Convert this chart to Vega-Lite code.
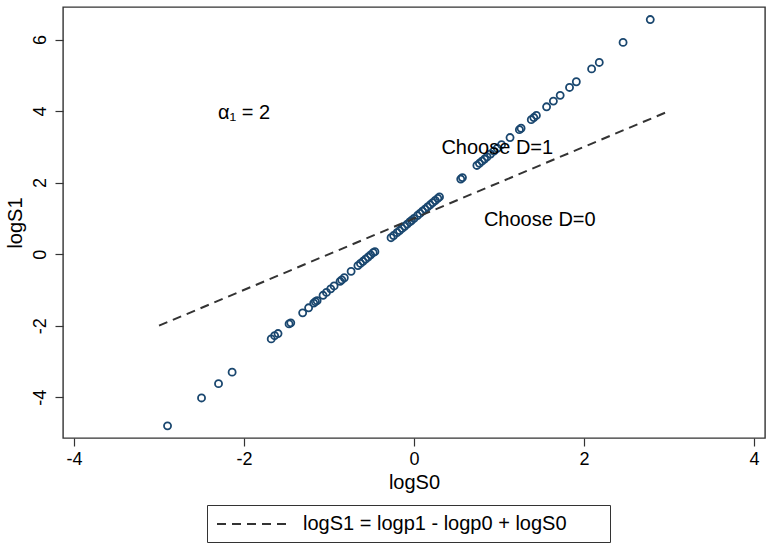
{
  "$schema": "https://vega.github.io/schema/vega-lite/v6.json",
  "width": 702,
  "height": 431,
  "autosize": {"type": "none"},
  "padding": {"left": 63, "top": 7, "right": 4, "bottom": 112},
  "background": "white",
  "config": {
    "view": {"stroke": "#333333", "strokeWidth": 1.4},
    "font": "Liberation Sans",
    "axis": {
      "grid": false,
      "domain": false,
      "tickColor": "#333333",
      "tickSize": 8,
      "tickWidth": 1.2,
      "labelFont": "Liberation Sans",
      "labelColor": "#000000",
      "labelFontSize": 18,
      "titleFont": "Liberation Sans",
      "titleColor": "#000000",
      "titleFontSize": 20,
      "titleFontWeight": "normal"
    }
  },
  "layer": [
    {
      "data": {
        "values": [
          {"logS0": -2.90, "logS1": -4.80},
          {"logS0": -2.50, "logS1": -4.02},
          {"logS0": -2.30, "logS1": -3.62},
          {"logS0": -2.14, "logS1": -3.30},
          {"logS0": -1.68, "logS1": -2.37},
          {"logS0": -1.64, "logS1": -2.28},
          {"logS0": -1.60, "logS1": -2.22},
          {"logS0": -1.47, "logS1": -1.95},
          {"logS0": -1.45, "logS1": -1.92},
          {"logS0": -1.31, "logS1": -1.64},
          {"logS0": -1.24, "logS1": -1.50},
          {"logS0": -1.18, "logS1": -1.37},
          {"logS0": -1.16, "logS1": -1.33},
          {"logS0": -1.14, "logS1": -1.30},
          {"logS0": -1.07, "logS1": -1.15},
          {"logS0": -1.03, "logS1": -1.07},
          {"logS0": -0.98, "logS1": -0.97},
          {"logS0": -0.94, "logS1": -0.89},
          {"logS0": -0.87, "logS1": -0.76},
          {"logS0": -0.85, "logS1": -0.72},
          {"logS0": -0.82, "logS1": -0.66},
          {"logS0": -0.74, "logS1": -0.48},
          {"logS0": -0.66, "logS1": -0.32},
          {"logS0": -0.63, "logS1": -0.26},
          {"logS0": -0.60, "logS1": -0.20},
          {"logS0": -0.57, "logS1": -0.14},
          {"logS0": -0.54, "logS1": -0.08},
          {"logS0": -0.51, "logS1": -0.02},
          {"logS0": -0.48, "logS1": 0.04},
          {"logS0": -0.46, "logS1": 0.07},
          {"logS0": -0.27, "logS1": 0.46},
          {"logS0": -0.24, "logS1": 0.52},
          {"logS0": -0.20, "logS1": 0.60},
          {"logS0": -0.17, "logS1": 0.66},
          {"logS0": -0.14, "logS1": 0.72},
          {"logS0": -0.11, "logS1": 0.78},
          {"logS0": -0.08, "logS1": 0.84},
          {"logS0": -0.05, "logS1": 0.90},
          {"logS0": -0.03, "logS1": 0.94},
          {"logS0": 0.00, "logS1": 1.00},
          {"logS0": 0.04, "logS1": 1.08},
          {"logS0": 0.07, "logS1": 1.14},
          {"logS0": 0.10, "logS1": 1.20},
          {"logS0": 0.13, "logS1": 1.26},
          {"logS0": 0.16, "logS1": 1.32},
          {"logS0": 0.19, "logS1": 1.38},
          {"logS0": 0.22, "logS1": 1.44},
          {"logS0": 0.25, "logS1": 1.50},
          {"logS0": 0.28, "logS1": 1.56},
          {"logS0": 0.30, "logS1": 1.60},
          {"logS0": 0.55, "logS1": 2.10},
          {"logS0": 0.57, "logS1": 2.14},
          {"logS0": 0.74, "logS1": 2.48},
          {"logS0": 0.77, "logS1": 2.54},
          {"logS0": 0.80, "logS1": 2.60},
          {"logS0": 0.83, "logS1": 2.66},
          {"logS0": 0.86, "logS1": 2.72},
          {"logS0": 0.90, "logS1": 2.80},
          {"logS0": 0.94, "logS1": 2.88},
          {"logS0": 0.98, "logS1": 2.96},
          {"logS0": 1.03, "logS1": 3.06},
          {"logS0": 1.13, "logS1": 3.26},
          {"logS0": 1.24, "logS1": 3.48},
          {"logS0": 1.26, "logS1": 3.52},
          {"logS0": 1.38, "logS1": 3.76},
          {"logS0": 1.41, "logS1": 3.82},
          {"logS0": 1.44, "logS1": 3.88},
          {"logS0": 1.56, "logS1": 4.12},
          {"logS0": 1.64, "logS1": 4.28},
          {"logS0": 1.72, "logS1": 4.44},
          {"logS0": 1.83, "logS1": 4.66},
          {"logS0": 1.91, "logS1": 4.82},
          {"logS0": 2.09, "logS1": 5.18},
          {"logS0": 2.18, "logS1": 5.36},
          {"logS0": 2.46, "logS1": 5.92},
          {"logS0": 2.78, "logS1": 6.56}
        ]
      },
      "mark": {"type": "point", "shape": "circle", "filled": false, "color": "#1a476f", "size": 50, "strokeWidth": 1.8, "opacity": 1},
      "encoding": {
        "x": {"field": "logS0", "type": "quantitative", "title": "logS0",
              "scale": {"domain": [-4.13, 4.13], "nice": false, "zero": false},
              "axis": {"values": [-4, -2, 0, 2, 4], "labelExpr": "datum.value + ''", "labelPadding": 4, "titlePadding": 4}},
        "y": {"field": "logS1", "type": "quantitative", "title": "logS1",
              "scale": {"domain": [-5.14, 6.91], "nice": false, "zero": false},
              "axis": {"values": [-4, -2, 0, 2, 4, 6], "labelExpr": "datum.value + ''", "labelAngle": -90, "labelAlign": "center", "labelBaseline": "bottom", "labelPadding": 6, "titlePadding": 6}}
      }
    },
    {
      "data": {
        "values": [
          {"logS0": -3, "logS1": -2, "series": "logS1 = logp1 - logp0 + logS0"},
          {"logS0": 3, "logS1": 4, "series": "logS1 = logp1 - logp0 + logS0"}
        ]
      },
      "mark": {"type": "line", "color": "#333333", "strokeWidth": 2},
      "encoding": {
        "x": {"field": "logS0", "type": "quantitative"},
        "y": {"field": "logS1", "type": "quantitative"},
        "strokeDash": {
          "field": "series", "type": "nominal",
          "scale": {"range": [[9, 6]]},
          "legend": {
            "orient": "none", "legendX": 144, "legendY": 498,
            "direction": "horizontal",
            "title": "\u00a0", "titleOrient": "right", "titlePadding": 35, "titleFontSize": 20,
            "strokeColor": "#333333", "padding": 8, "symbolOffset": 28,
            "symbolType": "M-3.7,0H3.7", "symbolSize": 400, "symbolStrokeWidth": 2, "symbolStrokeColor": "#333333",
            "labelFont": "Liberation Sans", "labelFontSize": 20, "labelColor": "#000000", "labelOffset": 38, "labelLimit": 400
          }
        }
      }
    },
    {
      "data": {
        "values": [
          {"logS0": -2.0, "logS1": 3.95, "label": "α₁ = 2"},
          {"logS0": 0.98, "logS1": 2.97, "label": "Choose D=1"},
          {"logS0": 1.48, "logS1": 0.96, "label": "Choose D=0"}
        ]
      },
      "mark": {"type": "text", "font": "Liberation Sans", "fontSize": 20, "color": "#000000", "align": "center", "baseline": "middle"},
      "encoding": {
        "x": {"field": "logS0", "type": "quantitative"},
        "y": {"field": "logS1", "type": "quantitative"},
        "text": {"field": "label"}
      }
    }
  ]
}
